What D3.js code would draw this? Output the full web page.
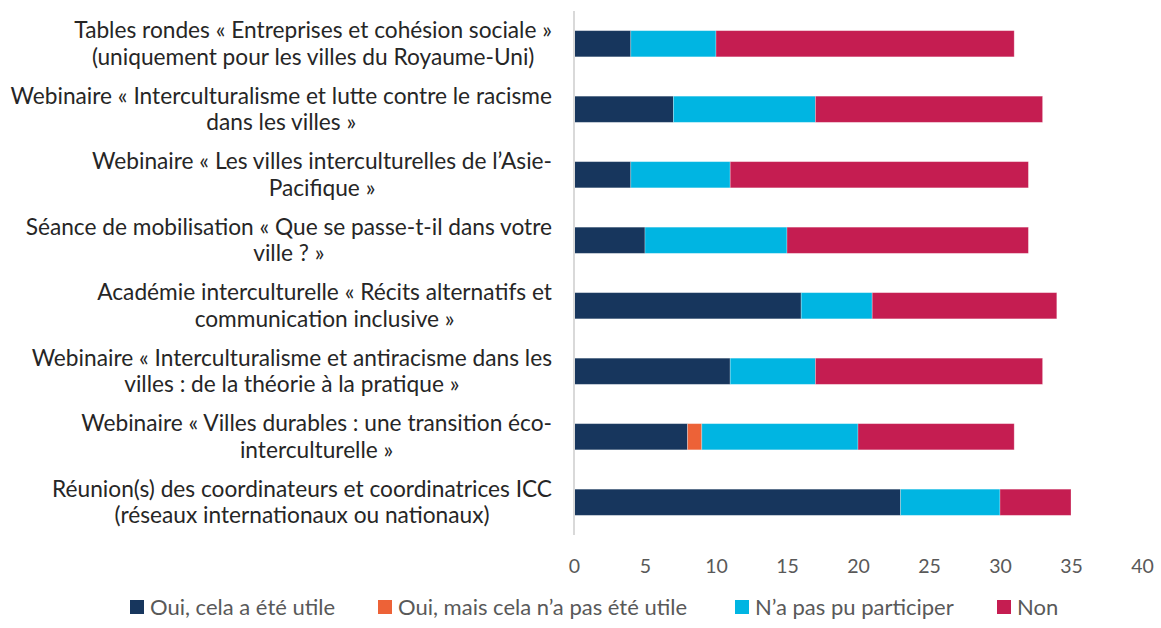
<!DOCTYPE html>
<html><head><meta charset="utf-8">
<script src="https://cdn.jsdelivr.net/npm/d3@7"></script>
<style>body{margin:0;background:#fff;} svg{display:block;}</style>
</head><body>
<svg id="c" width="1161" height="628"></svg>
<script>
const categories = [
  ["Tables rondes « Entreprises et cohésion sociale »", "(uniquement pour les villes du Royaume-Uni)"],
  ["Webinaire « Interculturalisme et lutte contre le racisme", "dans les villes »"],
  ["Webinaire « Les villes interculturelles de l’Asie-", "Pacifique »"],
  ["Séance de mobilisation « Que se passe-t-il dans votre", "ville ? »"],
  ["Académie interculturelle « Récits alternatifs et", "communication inclusive »"],
  ["Webinaire « Interculturalisme et antiracisme dans les", "villes : de la théorie à la pratique »"],
  ["Webinaire « Villes durables : une transition éco-", "interculturelle »"],
  ["Réunion(s) des coordinateurs et coordinatrices ICC", "(réseaux internationaux ou nationaux)"]
];
const seriesNames = ["Oui, cela a été utile", "Oui, mais cela n’a pas été utile", "N’a pas pu participer", "Non"];
const ouiUtile    = [4, 7, 4, 5, 16, 11, 8, 23];
const ouiPasUtile = [0, 0, 0, 0, 0, 0, 1, 0];
const pasPu       = [6, 10, 7, 10, 5, 6, 11, 7];
const non         = [21, 16, 21, 17, 13, 16, 11, 5];
const xTicks = [0, 5, 10, 15, 20, 25, 30, 35, 40];
const colors = ["#17365D", "#ED6237", "#00B5E2", "#C51D51"];

(function(){
const svg = d3.select("#c");
const font = "Lato, 'Open Sans', sans-serif";
const L = 574, R = 1142, T = 11, B = 535;

const x = d3.scaleLinear().domain([0, 40]).range([L, R]);
const y = d3.scaleBand().domain(d3.range(categories.length)).range([T, B]).paddingInner(0.6).paddingOuter(0.3);

const rows = categories.map((c, i) => ({i, v: [ouiUtile[i], ouiPasUtile[i], pasPu[i], non[i]]}));
const stack = d3.stack().keys([0,1,2,3]).value((d, k) => d.v[k]);
const series = stack(rows);

svg.append("g").selectAll("g").data(series).join("g")
  .attr("fill", (d, k) => colors[k])
  .selectAll("rect").data(d => d).join("rect")
  .attr("x", d => x(d[0]))
  .attr("width", d => x(d[1]) - x(d[0]))
  .attr("y", d => y(d.data.i))
  .attr("height", y.bandwidth())
  .attr("stroke", "rgba(255,255,255,0.35)")
  .attr("stroke-width", 0.8);

svg.append("line").attr("x1", L).attr("x2", L).attr("y1", T).attr("y2", B)
  .attr("stroke", "#D9D9D9").attr("stroke-width", 2);

const xAxis = d3.axisBottom(x).tickValues(xTicks).tickSize(0).tickPadding(0);
const gx = svg.append("g").attr("transform", `translate(0,${B + 24})`).call(xAxis);
gx.select(".domain").remove();
gx.selectAll("text").attr("font-family", font).attr("font-size", 19.5).attr("fill", "#595959").attr("dy", "0.71em");

// category labels: block right-aligned near the axis, lines centred in the block
const lab = svg.append("g");
const labelRight = 552;
categories.forEach((lines, i) => {
  const cy = y(i) + y.bandwidth() / 2;
  const t = lab.append("text").attr("text-anchor", "middle").attr("font-family", font)
    .attr("font-size", 22.7).attr("fill", "#262626");
  const spans = lines.map((ln, j) => t.append("tspan")
    .attr("y", cy + (j - (lines.length - 1) / 2) * 26.5).attr("dy", "0.35em").text(ln));
  const maxW = d3.max(spans, s => s.node().getComputedTextLength());
  spans.forEach(s => s.attr("x", labelRight - maxW / 2));
});

const legX = [130, 378, 735, 997];
const leg = svg.append("g");
seriesNames.forEach((n, k) => {
  leg.append("rect").attr("x", legX[k]).attr("y", 600).attr("width", 14).attr("height", 14).attr("fill", colors[k]);
  leg.append("text").attr("x", legX[k] + 20).attr("y", 607).attr("dy", "0.35em")
    .attr("font-family", font).attr("font-size", 22).attr("fill", "#595959").text(n);
});
})();
</script>
</body></html>
